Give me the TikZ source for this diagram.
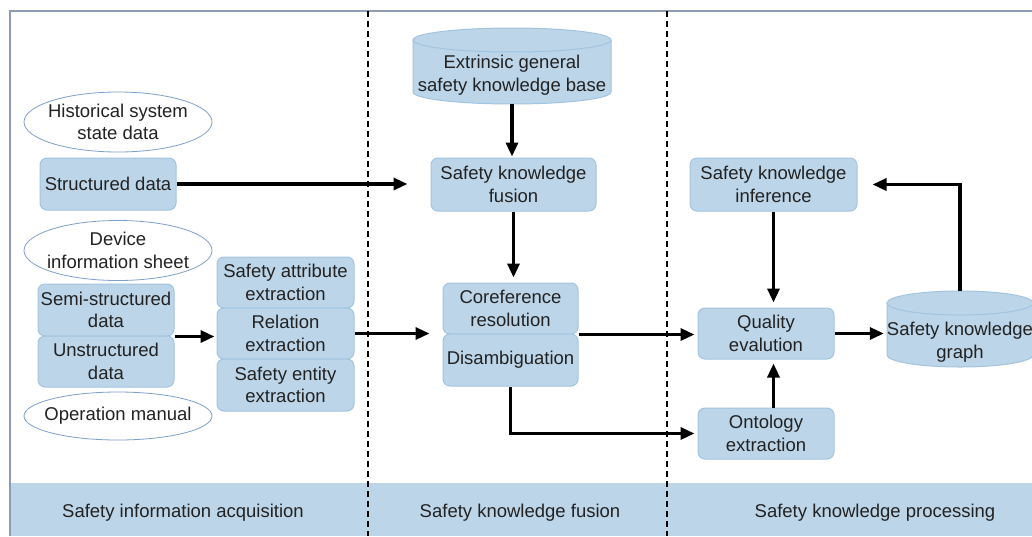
\documentclass[tikz,border=0pt]{standalone}
\usepackage{fontspec}
\setmainfont{Liberation Sans}
\usetikzlibrary{shapes.geometric,arrows.meta,calc}
\definecolor{boxfill}{HTML}{BDD5E8}
\definecolor{boxline}{HTML}{A3C4E0}
\definecolor{ellline}{HTML}{7F9FCB}
\definecolor{frameline}{HTML}{8D9BB5}
\definecolor{txt}{HTML}{222222}
\begin{document}
\begin{tikzpicture}[x=1pt,y=-1pt,
  font=\fontsize{18.5}{22.5}\selectfont, text=txt,
  rbox/.style={draw=boxline, fill=boxfill, line width=1pt, rounded corners=7pt, inner sep=0pt, align=center},
  oval/.style={draw=ellline, fill=white, ellipse, line width=0.8pt, inner xsep=-12pt, inner ysep=-6pt, align=center, minimum width=188pt, minimum height=60pt},
  flow/.style={line width=3.2pt, -{Triangle[length=14pt,width=12pt]}},
  divider/.style={dashed, dash pattern=on 6pt off 4pt, line width=1.4pt},
  cylbody/.style={fill=boxfill, draw=boxline, line width=1pt}
]
\useasboundingbox (0,0) rectangle (1032,536);
\fill[white] (0,0) rectangle (1032,536);
% frame and bottom band
\fill[boxfill] (10,483) rectangle (1032,536);
\draw[frameline, line width=1.2pt] (10,536) -- (10,11) -- (1032,11);
\node (lab1) at (183,513) {Safety information acquisition};
\node (lab2) at (520,513) {Safety knowledge fusion};
\node (lab3) at (875,513) {Safety knowledge processing};
\draw[divider] (368,11) -- (368,536);
\draw[divider] (667,11) -- (667,536);

% left column
\node[oval] (hist) at (118,122) {Historical system\\state data};
\node[rbox, minimum width=136pt, minimum height=52pt] (struct) at (108,184) {Structured data};
\node[oval] (dev) at (118,250.5) {Device\\information sheet};
\node[rbox, minimum width=136pt, minimum height=52pt] (semi) at (106,310) {Semi-structured\\data};
\node[rbox, minimum width=136pt, minimum height=51pt] (unst) at (106,361.5) {Unstructured\\data};
\node[oval, minimum height=48pt] (oper) at (118,416) {Operation manual};

\node[rbox, minimum width=137pt, minimum height=51pt] (attr) at (285.5,282.5) {Safety attribute\\extraction};
\node[rbox, minimum width=137pt, minimum height=51pt] (rel) at (285.5,333.5) {Relation\\extraction};
\node[rbox, minimum width=137pt, minimum height=52pt] (ent) at (285.5,385) {Safety entity\\extraction};

% middle column
\node[minimum width=198pt, minimum height=76pt, inner sep=0pt] (kb) at (512,66) {};
\draw[cylbody] (413,40) -- (413,92) arc[start angle=180, end angle=360, x radius=99pt, y radius=12pt] -- (611,40);
\draw[cylbody] (512,40) ellipse[x radius=99pt, y radius=12pt];
\node[align=center] (kbtext) at (512,75) {Extrinsic general\\safety knowledge base};

\node[rbox, minimum width=165pt, minimum height=53pt] (fus) at (513.5,184.5) {Safety knowledge\\fusion};
\node[rbox, minimum width=135pt, minimum height=51pt] (coref) at (510.5,308.5) {Coreference\\resolution};
\node[rbox, minimum width=135pt, minimum height=52pt] (dis) at (510.5,360) {Disambiguation};

% right column
\node[rbox, minimum width=167pt, minimum height=53pt] (inf) at (773.5,184.5) {Safety knowledge\\inference};
\node[rbox, minimum width=136pt, minimum height=51pt] (qual) at (766,333.5) {Quality\\evalution};
\node[rbox, minimum width=136pt, minimum height=51pt] (onto) at (766,433.5) {Ontology\\extraction};

\node[minimum width=146pt, minimum height=76pt, inner sep=0pt] (graph) at (960,329) {};
\draw[cylbody] (887,303) -- (887,355) arc[start angle=180, end angle=360, x radius=73pt, y radius=12pt] -- (1033,303);
\draw[cylbody] (960,303) ellipse[x radius=73pt, y radius=12pt];
\node[align=center] (graphtext) at (960,342) {Safety knowledge\\graph};

% connectors
\draw[flow, shorten >=23pt] (struct.east) -- (struct.east -| fus.west);
\draw[flow, shorten >=1pt] (kb.south) -- (kb.south |- fus.north);
\draw[flow, shorten >=5pt] (fus.south) -- (fus.south |- coref.north);
\draw[flow, shorten >=2pt] (semi.south east) -- (semi.south east -| rel.west);
\draw[flow, shorten >=13pt] (rel.east) -- (rel.east -| coref.west);
\draw[flow, shorten >=3pt] (coref.south east) -- (coref.south east -| qual.west);
\draw[flow, shorten >=3pt] (dis.south) |- (onto.west);
\draw[flow, shorten >=5pt] (inf.south) -- (inf.south |- qual.north);
\draw[flow, shorten >=4pt] (inf.south |- onto.north) -- (inf.south |- qual.south);
\draw[flow, shorten >=3pt] (qual.east) -- (qual.east -| graph.west);
\draw[flow, shorten >=15pt] (graph.north) |- (inf.east);
\end{tikzpicture}
\end{document}
